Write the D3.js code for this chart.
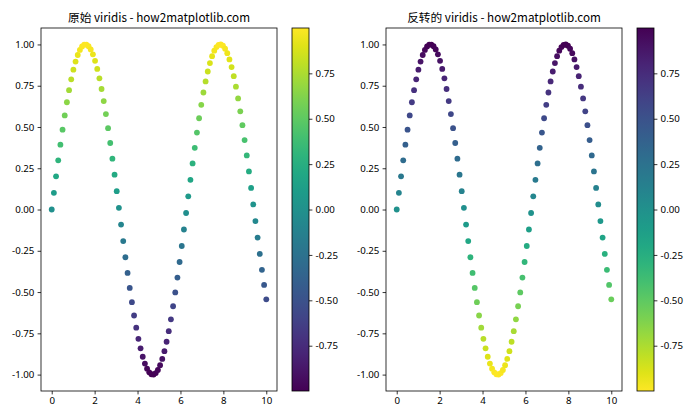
<!DOCTYPE html>
<html><head><meta charset="utf-8">
<script src="https://cdn.jsdelivr.net/npm/d3@7"></script>
<style>
html,body{margin:0;padding:0;background:#fff;}
svg{display:block;}
.tick text{font-family:"Noto Sans","Noto Sans CJK SC",sans-serif;font-size:9.7px;fill:#000;}
</style></head>
<body><svg id="c" width="700" height="420"></svg>
<script>
const xValues = [0,0.101,0.202,0.303,0.404,0.505,0.606,0.707,0.808,0.909,
1.010,1.111,1.212,1.313,1.414,1.515,1.616,1.717,1.818,1.919,
2.020,2.121,2.222,2.323,2.424,2.525,2.626,2.727,2.828,2.929,
3.030,3.131,3.232,3.333,3.434,3.535,3.636,3.737,3.838,3.939,
4.040,4.141,4.242,4.343,4.444,4.545,4.646,4.747,4.848,4.949,
5.051,5.152,5.253,5.354,5.455,5.556,5.657,5.758,5.859,5.960,
6.061,6.162,6.263,6.364,6.465,6.566,6.667,6.768,6.869,6.970,
7.071,7.172,7.273,7.374,7.475,7.576,7.677,7.778,7.879,7.980,
8.081,8.182,8.283,8.384,8.485,8.586,8.687,8.788,8.889,8.990,
9.091,9.192,9.293,9.394,9.495,9.596,9.697,9.798,9.899,10.000];
const yValues = [0,0.101,0.201,0.298,0.393,0.484,0.570,0.650,0.723,0.789,
0.847,0.896,0.936,0.967,0.988,0.9985,0.999,0.989,0.970,0.940,
0.901,0.852,0.795,0.730,0.657,0.578,0.493,0.403,0.308,0.211,
0.111,0.010,-0.091,-0.191,-0.289,-0.384,-0.475,-0.561,-0.642,-0.716,
-0.783,-0.841,-0.892,-0.933,-0.964,-0.986,-0.998,-0.9994,-0.991,-0.972,
-0.943,-0.905,-0.858,-0.801,-0.737,-0.665,-0.586,-0.502,-0.412,-0.318,
-0.221,-0.121,-0.021,0.080,0.180,0.279,0.374,0.466,0.553,0.634,
0.709,0.776,0.836,0.887,0.929,0.962,0.984,0.997,0.9997,0.992,
0.974,0.947,0.909,0.863,0.808,0.744,0.673,0.595,0.511,0.421,
0.328,0.231,0.131,0.031,-0.070,-0.170,-0.269,-0.365,-0.457,-0.544];
const xTicks = [0,2,4,6,8,10];
const yTicks = [-1.00,-0.75,-0.50,-0.25,0.00,0.25,0.50,0.75,1.00];
const cbTicks = [-0.75,-0.50,-0.25,0.00,0.25,0.50,0.75];
const titles = ["原始 viridis - how2matplotlib.com","反转的 viridis - how2matplotlib.com"];
const reversed = [false,true];

(function(){
const svg = d3.select("#c");
const axTop = 28, axBottom = 391, axW = 236, cbW = 17;
const axLefts = [41, 386], cbLefts = [292, 637];
const fmt = d3.format(".2f");

const yExt = d3.extent(yValues);
const ySpan = yExt[1]-yExt[0];
const xExt = d3.extent(xValues);
const xSpan = xExt[1]-xExt[0];

[0,1].forEach(k=>{
  const L = axLefts[k];
  const x = d3.scaleLinear().domain([xExt[0]-0.05*xSpan, xExt[1]+0.05*xSpan]).range([L, L+axW]);
  const y = d3.scaleLinear().domain([yExt[0]-0.05*ySpan, yExt[1]+0.05*ySpan]).range([axBottom, axTop]);
  const interp = reversed[k] ? (t=>d3.interpolateViridis(1-t)) : d3.interpolateViridis;
  const color = d3.scaleSequential(interp).domain(yExt);

  const g = svg.append("g");
  g.selectAll("circle").data(xValues).join("circle")
    .attr("cx",(d,i)=>x(d)).attr("cy",(d,i)=>y(yValues[i]))
    .attr("r",2.9).attr("fill",(d,i)=>color(yValues[i]));

  const xa = svg.append("g").attr("transform",`translate(0,${axBottom})`)
    .call(d3.axisBottom(x).tickValues(xTicks).tickFormat(d3.format("d")).tickSize(3.4).tickPadding(3.2));
  const ya = svg.append("g").attr("transform",`translate(${L},0)`)
    .call(d3.axisLeft(y).tickValues(yTicks).tickFormat(d=>fmt(d).replace("−","-")).tickSize(3.4).tickPadding(3.2));
  [xa,ya].forEach(a=>{a.select(".domain").remove(); a.selectAll("line").attr("stroke","#000").attr("stroke-width",0.8);});

  svg.append("rect").attr("x",L).attr("y",axTop).attr("width",axW).attr("height",axBottom-axTop)
    .attr("fill","none").attr("stroke","#000").attr("stroke-width",0.8);

  svg.append("text").attr("x",L+axW/2).attr("y",axTop-6.5).attr("text-anchor","middle")
    .attr("font-family","'Noto Sans CJK SC','Noto Sans',sans-serif").attr("font-size",11.7)
    .text(titles[k]);

  // colorbar
  const C = cbLefts[k];
  const cy = d3.scaleLinear().domain(yExt).range([axBottom, axTop]);
  const gid = "grad"+k;
  const grad = svg.append("defs").append("linearGradient").attr("id",gid)
    .attr("x1",0).attr("y1",1).attr("x2",0).attr("y2",0);
  d3.range(0,1.0001,0.05).forEach(t=>{
    grad.append("stop").attr("offset",t).attr("stop-color",interp(t));
  });
  svg.append("rect").attr("x",C).attr("y",axTop).attr("width",cbW).attr("height",axBottom-axTop)
    .attr("fill",`url(#${gid})`);
  const ca = svg.append("g").attr("transform",`translate(${C+cbW},0)`)
    .call(d3.axisRight(cy).tickValues(cbTicks).tickFormat(d=>fmt(d).replace("−","-")).tickSize(3.4).tickPadding(3.2));
  ca.select(".domain").remove();
  ca.selectAll("line").attr("stroke","#000").attr("stroke-width",0.8);
  svg.append("rect").attr("x",C).attr("y",axTop).attr("width",cbW).attr("height",axBottom-axTop)
    .attr("fill","none").attr("stroke","#000").attr("stroke-width",0.8);
});
})();
</script></body></html>
